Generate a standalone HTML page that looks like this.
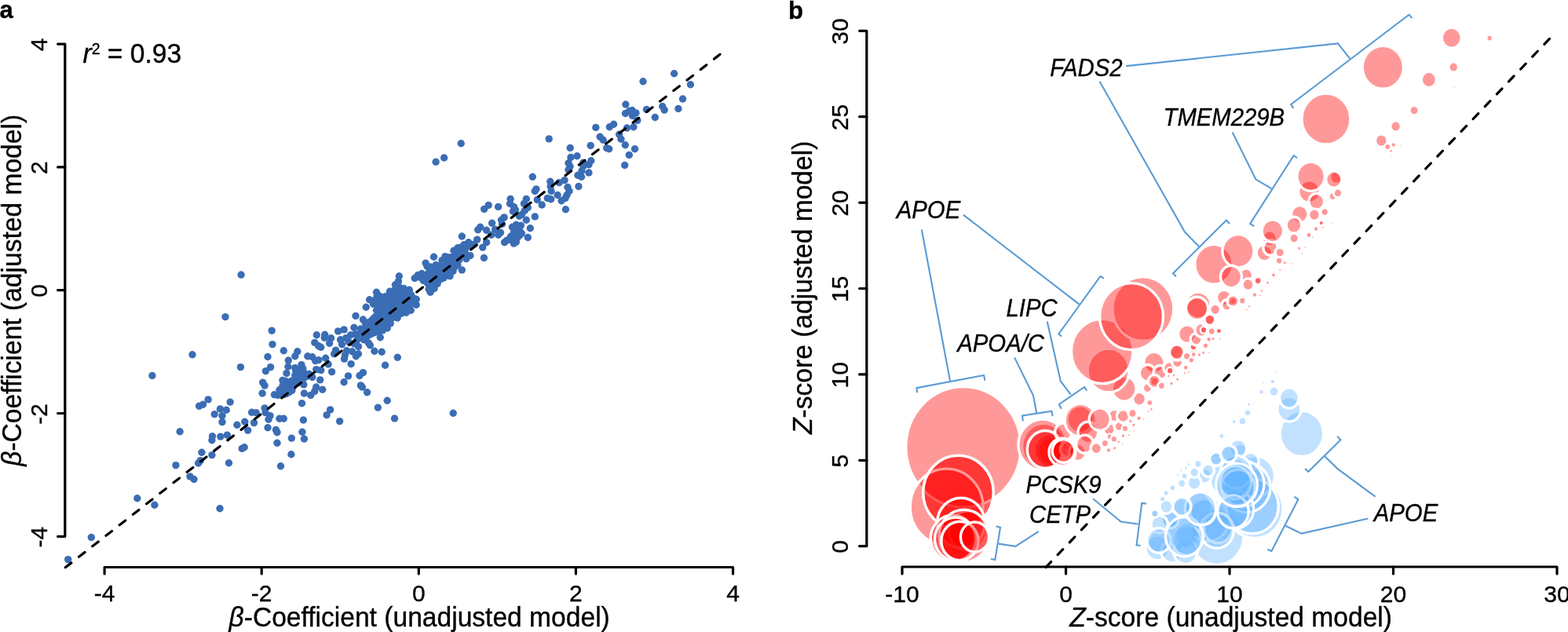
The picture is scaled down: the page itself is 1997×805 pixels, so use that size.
<!DOCTYPE html>
<html lang="en"><head><meta charset="utf-8"><title>Figure</title>
<style>
html,body{margin:0;padding:0;background:#fff;}
body{width:1997px;height:805px;overflow:hidden;}
svg{display:block;}
text{font-family:'Liberation Sans', Arial, Helvetica, sans-serif;fill:#000;stroke:#000;stroke-width:0.35px;}
.ax{stroke:#000;stroke-width:3.2;fill:none;stroke-linecap:round;stroke-linejoin:round;}
.tk{font-size:30px;text-anchor:middle;}
.al{font-size:33.6px;}
.gl{font-size:29.3px;font-style:italic;}
.pl{font-size:31px;font-weight:bold;}
.br{stroke:#5b9bd5;stroke-width:2.1;fill:none;stroke-linejoin:miter;}
.d{fill:#3b6db5;}
.r{fill:rgba(255,0,0,0.4);stroke:#fff;}
.b{fill:rgba(100,180,255,0.4);stroke:#fff;}
.rn{fill:rgba(255,0,0,0.4);}
.bn{fill:rgba(100,180,255,0.4);}
.dash{stroke:#000;stroke-width:3.2;fill:none;stroke-linecap:round;}
</style></head><body>
<svg width="1997" height="805" viewBox="0 0 1997 805">
<rect x="0" y="0" width="1997" height="805" fill="#fff"/>
<g id="panel-a">
<g class="d">
<circle cx="86.7" cy="712.6" r="4.7"/>
<circle cx="116.3" cy="684.5" r="4.7"/>
<circle cx="174.8" cy="634.7" r="4.7"/>
<circle cx="196.9" cy="643.3" r="4.7"/>
<circle cx="223.9" cy="592.6" r="4.7"/>
<circle cx="229.1" cy="549.8" r="4.7"/>
<circle cx="242.0" cy="606.9" r="4.7"/>
<circle cx="247.0" cy="610.5" r="4.7"/>
<circle cx="252.6" cy="590.0" r="4.7"/>
<circle cx="255.3" cy="586.6" r="4.7"/>
<circle cx="256.9" cy="576.3" r="4.7"/>
<circle cx="269.9" cy="579.6" r="4.7"/>
<circle cx="269.9" cy="560.8" r="4.7"/>
<circle cx="270.5" cy="555.8" r="4.7"/>
<circle cx="273.2" cy="527.6" r="4.7"/>
<circle cx="193.9" cy="478.5" r="4.7"/>
<circle cx="245.0" cy="451.7" r="4.7"/>
<circle cx="287.0" cy="403.6" r="4.7"/>
<circle cx="306.4" cy="467.6" r="4.7"/>
<circle cx="253.6" cy="517.3" r="4.7"/>
<circle cx="258.5" cy="515.3" r="4.7"/>
<circle cx="265.1" cy="508.9" r="4.7"/>
<circle cx="280.4" cy="520.9" r="4.7"/>
<circle cx="288.3" cy="522.3" r="4.7"/>
<circle cx="293.1" cy="512.1" r="4.7"/>
<circle cx="283.0" cy="529.6" r="4.7"/>
<circle cx="283.0" cy="537.6" r="4.7"/>
<circle cx="280.8" cy="556.1" r="4.7"/>
<circle cx="289.3" cy="554.1" r="4.7"/>
<circle cx="301.9" cy="541.2" r="4.7"/>
<circle cx="311.8" cy="537.2" r="4.7"/>
<circle cx="315.6" cy="548.1" r="4.7"/>
<circle cx="320.6" cy="525.2" r="4.7"/>
<circle cx="326.1" cy="525.6" r="4.7"/>
<circle cx="323.5" cy="538.6" r="4.7"/>
<circle cx="337.1" cy="519.9" r="4.7"/>
<circle cx="338.1" cy="525.6" r="4.7"/>
<circle cx="344.0" cy="529.6" r="4.7"/>
<circle cx="342.0" cy="534.2" r="4.7"/>
<circle cx="341.0" cy="544.7" r="4.7"/>
<circle cx="351.4" cy="547.5" r="4.7"/>
<circle cx="353.0" cy="550.7" r="4.7"/>
<circle cx="355.9" cy="533.2" r="4.7"/>
<circle cx="361.3" cy="533.2" r="4.7"/>
<circle cx="371.3" cy="558.1" r="4.7"/>
<circle cx="334.1" cy="501.0" r="4.7"/>
<circle cx="334.7" cy="487.1" r="4.7"/>
<circle cx="337.1" cy="491.1" r="4.7"/>
<circle cx="338.4" cy="472.6" r="4.7"/>
<circle cx="344.6" cy="467.6" r="4.7"/>
<circle cx="341.0" cy="454.5" r="4.7"/>
<circle cx="347.0" cy="438.6" r="4.7"/>
<circle cx="346.2" cy="421.1" r="4.7"/>
<circle cx="361.3" cy="446.7" r="4.7"/>
<circle cx="367.3" cy="459.0" r="4.7"/>
<circle cx="366.9" cy="467.0" r="4.7"/>
<circle cx="364.9" cy="475.5" r="4.7"/>
<circle cx="375.8" cy="453.7" r="4.7"/>
<circle cx="378.8" cy="447.7" r="4.7"/>
<circle cx="349.4" cy="502.8" r="4.7"/>
<circle cx="354.0" cy="503.4" r="4.7"/>
<circle cx="355.9" cy="496.8" r="4.7"/>
<circle cx="359.9" cy="484.5" r="4.7"/>
<circle cx="361.9" cy="502.4" r="4.7"/>
<circle cx="365.9" cy="487.5" r="4.7"/>
<circle cx="366.9" cy="493.4" r="4.7"/>
<circle cx="370.9" cy="485.5" r="4.7"/>
<circle cx="371.8" cy="497.4" r="4.7"/>
<circle cx="375.8" cy="468.6" r="4.7"/>
<circle cx="376.8" cy="472.6" r="4.7"/>
<circle cx="374.8" cy="483.5" r="4.7"/>
<circle cx="378.8" cy="479.5" r="4.7"/>
<circle cx="362.9" cy="490.5" r="4.7"/>
<circle cx="368.9" cy="490.5" r="4.7"/>
<circle cx="358.9" cy="499.4" r="4.7"/>
<circle cx="280.0" cy="647.8" r="4.7"/>
<circle cx="291.5" cy="589.7" r="4.7"/>
<circle cx="308.2" cy="571.4" r="4.7"/>
<circle cx="311.2" cy="569.8" r="4.7"/>
<circle cx="353.0" cy="564.3" r="4.7"/>
<circle cx="357.5" cy="593.7" r="4.7"/>
<circle cx="370.9" cy="578.8" r="4.7"/>
<circle cx="506.3" cy="455.3" r="4.7"/>
<circle cx="490.6" cy="465.2" r="4.7"/>
<circle cx="486.2" cy="448.3" r="4.7"/>
<circle cx="476.9" cy="447.3" r="4.7"/>
<circle cx="502.5" cy="533.0" r="4.7"/>
<circle cx="493.2" cy="510.3" r="4.7"/>
<circle cx="481.3" cy="519.1" r="4.7"/>
<circle cx="467.6" cy="499.8" r="4.7"/>
<circle cx="459.4" cy="490.9" r="4.7"/>
<circle cx="461.4" cy="493.0" r="4.7"/>
<circle cx="462.4" cy="474.6" r="4.7"/>
<circle cx="458.0" cy="478.5" r="4.7"/>
<circle cx="443.5" cy="478.9" r="4.7"/>
<circle cx="438.1" cy="486.7" r="4.7"/>
<circle cx="447.1" cy="463.6" r="4.7"/>
<circle cx="432.6" cy="536.6" r="4.7"/>
<circle cx="420.6" cy="521.9" r="4.7"/>
<circle cx="416.1" cy="528.6" r="4.7"/>
<circle cx="386.4" cy="535.0" r="4.7"/>
<circle cx="384.9" cy="550.3" r="4.7"/>
<circle cx="387.4" cy="559.0" r="4.7"/>
<circle cx="384.5" cy="513.7" r="4.7"/>
<circle cx="422.6" cy="473.6" r="4.7"/>
<circle cx="410.7" cy="496.2" r="4.7"/>
<circle cx="402.7" cy="493.0" r="4.7"/>
<circle cx="400.8" cy="498.4" r="4.7"/>
<circle cx="395.8" cy="503.4" r="4.7"/>
<circle cx="387.4" cy="501.0" r="4.7"/>
<circle cx="386.8" cy="489.9" r="4.7"/>
<circle cx="407.7" cy="483.9" r="4.7"/>
<circle cx="408.7" cy="471.6" r="4.7"/>
<circle cx="402.7" cy="470.6" r="4.7"/>
<circle cx="397.8" cy="480.5" r="4.7"/>
<circle cx="418.1" cy="464.0" r="4.7"/>
<circle cx="414.7" cy="456.3" r="4.7"/>
<circle cx="405.7" cy="458.6" r="4.7"/>
<circle cx="401.7" cy="459.6" r="4.7"/>
<circle cx="397.8" cy="454.7" r="4.7"/>
<circle cx="391.8" cy="453.7" r="4.7"/>
<circle cx="403.3" cy="426.8" r="4.7"/>
<circle cx="413.7" cy="426.2" r="4.7"/>
<circle cx="413.3" cy="430.2" r="4.7"/>
<circle cx="400.8" cy="436.4" r="4.7"/>
<circle cx="405.7" cy="440.8" r="4.7"/>
<circle cx="408.7" cy="442.3" r="4.7"/>
<circle cx="419.6" cy="437.2" r="4.7"/>
<circle cx="421.6" cy="430.8" r="4.7"/>
<circle cx="430.6" cy="421.9" r="4.7"/>
<circle cx="438.1" cy="419.9" r="4.7"/>
<circle cx="450.9" cy="417.3" r="4.7"/>
<circle cx="453.0" cy="402.4" r="4.7"/>
<circle cx="462.4" cy="407.0" r="4.7"/>
<circle cx="427.6" cy="446.1" r="4.7"/>
<circle cx="425.6" cy="450.7" r="4.7"/>
<circle cx="439.5" cy="452.1" r="4.7"/>
<circle cx="438.5" cy="457.1" r="4.7"/>
<circle cx="441.5" cy="446.7" r="4.7"/>
<circle cx="448.5" cy="447.7" r="4.7"/>
<circle cx="453.4" cy="453.7" r="4.7"/>
<circle cx="456.4" cy="450.7" r="4.7"/>
<circle cx="456.4" cy="441.4" r="4.7"/>
<circle cx="450.5" cy="437.8" r="4.7"/>
<circle cx="444.5" cy="435.8" r="4.7"/>
<circle cx="435.5" cy="438.8" r="4.7"/>
<circle cx="433.6" cy="432.8" r="4.7"/>
<circle cx="440.5" cy="430.8" r="4.7"/>
<circle cx="446.5" cy="426.8" r="4.7"/>
<circle cx="452.4" cy="425.8" r="4.7"/>
<circle cx="457.4" cy="430.8" r="4.7"/>
<circle cx="463.4" cy="432.8" r="4.7"/>
<circle cx="469.3" cy="436.8" r="4.7"/>
<circle cx="471.3" cy="439.8" r="4.7"/>
<circle cx="468.3" cy="427.8" r="4.7"/>
<circle cx="476.3" cy="423.9" r="4.7"/>
<circle cx="484.3" cy="429.8" r="4.7"/>
<circle cx="479.3" cy="419.9" r="4.7"/>
<circle cx="471.3" cy="418.9" r="4.7"/>
<circle cx="465.4" cy="419.9" r="4.7"/>
<circle cx="459.4" cy="418.9" r="4.7"/>
<circle cx="465.4" cy="411.9" r="4.7"/>
<circle cx="471.3" cy="409.9" r="4.7"/>
<circle cx="477.3" cy="404.0" r="4.7"/>
<circle cx="477.3" cy="411.9" r="4.7"/>
<circle cx="483.3" cy="413.9" r="4.7"/>
<circle cx="489.2" cy="408.0" r="4.7"/>
<circle cx="493.2" cy="417.9" r="4.7"/>
<circle cx="497.2" cy="411.9" r="4.7"/>
<circle cx="495.2" cy="404.0" r="4.7"/>
<circle cx="501.2" cy="402.0" r="4.7"/>
<circle cx="506.1" cy="405.0" r="4.7"/>
<circle cx="487.2" cy="420.9" r="4.7"/>
<circle cx="379.9" cy="471.6" r="4.7"/>
<circle cx="383.9" cy="464.6" r="4.7"/>
<circle cx="385.8" cy="469.6" r="4.7"/>
<circle cx="381.9" cy="476.5" r="4.7"/>
<circle cx="387.8" cy="475.5" r="4.7"/>
<circle cx="390.8" cy="479.5" r="4.7"/>
<circle cx="364.0" cy="485.5" r="4.7"/>
<circle cx="373.9" cy="489.5" r="4.7"/>
<circle cx="379.9" cy="487.5" r="4.7"/>
<circle cx="369.9" cy="495.4" r="4.7"/>
<circle cx="364.0" cy="493.4" r="4.7"/>
<circle cx="365.0" cy="501.4" r="4.7"/>
<circle cx="360.0" cy="491.5" r="4.7"/>
<circle cx="383.9" cy="483.5" r="4.7"/>
<circle cx="393.8" cy="476.5" r="4.7"/>
<circle cx="577.2" cy="526.2" r="4.7"/>
<circle cx="466.2" cy="391.2" r="4.7"/>
<circle cx="470.6" cy="381.7" r="4.7"/>
<circle cx="479.5" cy="372.3" r="4.7"/>
<circle cx="468.6" cy="411.1" r="4.7"/>
<circle cx="479.5" cy="395.2" r="4.7"/>
<circle cx="475.5" cy="387.2" r="4.7"/>
<circle cx="483.5" cy="377.3" r="4.7"/>
<circle cx="487.5" cy="379.3" r="4.7"/>
<circle cx="496.4" cy="371.3" r="4.7"/>
<circle cx="503.4" cy="362.8" r="4.7"/>
<circle cx="508.3" cy="351.8" r="4.7"/>
<circle cx="507.4" cy="358.4" r="4.7"/>
<circle cx="514.3" cy="367.4" r="4.7"/>
<circle cx="521.3" cy="369.3" r="4.7"/>
<circle cx="523.3" cy="375.3" r="4.7"/>
<circle cx="530.2" cy="381.3" r="4.7"/>
<circle cx="530.2" cy="388.2" r="4.7"/>
<circle cx="527.2" cy="383.3" r="4.7"/>
<circle cx="517.3" cy="398.2" r="4.7"/>
<circle cx="511.3" cy="399.2" r="4.7"/>
<circle cx="519.3" cy="389.2" r="4.7"/>
<circle cx="523.3" cy="395.2" r="4.7"/>
<circle cx="489.5" cy="389.2" r="4.7"/>
<circle cx="495.4" cy="383.3" r="4.7"/>
<circle cx="501.4" cy="379.3" r="4.7"/>
<circle cx="507.4" cy="375.3" r="4.7"/>
<circle cx="513.3" cy="379.3" r="4.7"/>
<circle cx="503.4" cy="387.2" r="4.7"/>
<circle cx="495.4" cy="395.2" r="4.7"/>
<circle cx="489.5" cy="399.2" r="4.7"/>
<circle cx="485.5" cy="407.1" r="4.7"/>
<circle cx="491.5" cy="411.1" r="4.7"/>
<circle cx="479.5" cy="415.1" r="4.7"/>
<circle cx="499.4" cy="399.2" r="4.7"/>
<circle cx="507.4" cy="391.2" r="4.7"/>
<circle cx="513.3" cy="387.2" r="4.7"/>
<circle cx="519.3" cy="381.3" r="4.7"/>
<circle cx="489.5" cy="383.3" r="4.7"/>
<circle cx="483.5" cy="387.2" r="4.7"/>
<circle cx="528.2" cy="354.4" r="4.7"/>
<circle cx="532.2" cy="350.5" r="4.7"/>
<circle cx="537.2" cy="348.5" r="4.7"/>
<circle cx="542.1" cy="335.1" r="4.7"/>
<circle cx="544.1" cy="339.5" r="4.7"/>
<circle cx="552.5" cy="327.2" r="4.7"/>
<circle cx="555.1" cy="337.5" r="4.7"/>
<circle cx="549.1" cy="345.5" r="4.7"/>
<circle cx="543.1" cy="351.5" r="4.7"/>
<circle cx="539.2" cy="357.4" r="4.7"/>
<circle cx="545.1" cy="361.4" r="4.7"/>
<circle cx="548.1" cy="372.3" r="4.7"/>
<circle cx="553.1" cy="367.4" r="4.7"/>
<circle cx="557.1" cy="361.4" r="4.7"/>
<circle cx="561.0" cy="355.4" r="4.7"/>
<circle cx="567.0" cy="351.5" r="4.7"/>
<circle cx="573.0" cy="351.8" r="4.7"/>
<circle cx="576.9" cy="345.5" r="4.7"/>
<circle cx="588.3" cy="343.9" r="4.7"/>
<circle cx="582.9" cy="337.5" r="4.7"/>
<circle cx="578.9" cy="331.6" r="4.7"/>
<circle cx="573.0" cy="327.6" r="4.7"/>
<circle cx="567.0" cy="326.6" r="4.7"/>
<circle cx="577.9" cy="319.2" r="4.7"/>
<circle cx="582.9" cy="315.7" r="4.7"/>
<circle cx="588.3" cy="301.0" r="4.7"/>
<circle cx="590.9" cy="311.7" r="4.7"/>
<circle cx="596.8" cy="308.7" r="4.7"/>
<circle cx="593.8" cy="329.6" r="4.7"/>
<circle cx="598.8" cy="325.6" r="4.7"/>
<circle cx="586.9" cy="321.6" r="4.7"/>
<circle cx="590.9" cy="317.7" r="4.7"/>
<circle cx="569.0" cy="335.5" r="4.7"/>
<circle cx="563.0" cy="339.5" r="4.7"/>
<circle cx="559.0" cy="345.5" r="4.7"/>
<circle cx="553.1" cy="351.5" r="4.7"/>
<circle cx="547.1" cy="355.4" r="4.7"/>
<circle cx="563.0" cy="331.6" r="4.7"/>
<circle cx="575.0" cy="339.5" r="4.7"/>
<circle cx="569.0" cy="343.5" r="4.7"/>
<circle cx="580.9" cy="327.6" r="4.7"/>
<circle cx="551.1" cy="359.4" r="4.7"/>
<circle cx="546.1" cy="368.3" r="4.7"/>
<circle cx="565.6" cy="201.0" r="4.7"/>
<circle cx="587.2" cy="182.7" r="4.7"/>
<circle cx="699.2" cy="176.9" r="4.7"/>
<circle cx="678.3" cy="225.2" r="4.7"/>
<circle cx="758.8" cy="162.4" r="4.7"/>
<circle cx="726.2" cy="188.4" r="4.7"/>
<circle cx="752.2" cy="185.4" r="4.7"/>
<circle cx="727.0" cy="200.4" r="4.7"/>
<circle cx="735.0" cy="198.8" r="4.7"/>
<circle cx="724.0" cy="207.7" r="4.7"/>
<circle cx="726.0" cy="212.1" r="4.7"/>
<circle cx="724.0" cy="216.3" r="4.7"/>
<circle cx="752.8" cy="204.7" r="4.7"/>
<circle cx="749.9" cy="209.7" r="4.7"/>
<circle cx="742.9" cy="211.7" r="4.7"/>
<circle cx="740.9" cy="217.7" r="4.7"/>
<circle cx="749.9" cy="220.0" r="4.7"/>
<circle cx="735.9" cy="223.2" r="4.7"/>
<circle cx="740.5" cy="225.2" r="4.7"/>
<circle cx="736.9" cy="237.5" r="4.7"/>
<circle cx="719.0" cy="229.6" r="4.7"/>
<circle cx="712.1" cy="232.6" r="4.7"/>
<circle cx="700.8" cy="231.2" r="4.7"/>
<circle cx="701.2" cy="237.5" r="4.7"/>
<circle cx="702.1" cy="243.5" r="4.7"/>
<circle cx="697.2" cy="252.4" r="4.7"/>
<circle cx="701.7" cy="253.8" r="4.7"/>
<circle cx="690.2" cy="261.0" r="4.7"/>
<circle cx="684.3" cy="254.4" r="4.7"/>
<circle cx="681.3" cy="243.5" r="4.7"/>
<circle cx="682.9" cy="240.9" r="4.7"/>
<circle cx="670.3" cy="253.4" r="4.7"/>
<circle cx="667.4" cy="259.4" r="4.7"/>
<circle cx="672.3" cy="264.4" r="4.7"/>
<circle cx="668.3" cy="268.3" r="4.7"/>
<circle cx="664.4" cy="273.3" r="4.7"/>
<circle cx="661.4" cy="275.3" r="4.7"/>
<circle cx="670.3" cy="280.3" r="4.7"/>
<circle cx="681.3" cy="275.9" r="4.7"/>
<circle cx="650.1" cy="253.4" r="4.7"/>
<circle cx="649.5" cy="259.4" r="4.7"/>
<circle cx="654.4" cy="263.4" r="4.7"/>
<circle cx="653.4" cy="269.3" r="4.7"/>
<circle cx="656.4" cy="267.4" r="4.7"/>
<circle cx="634.6" cy="263.4" r="4.7"/>
<circle cx="622.2" cy="261.4" r="4.7"/>
<circle cx="616.7" cy="266.4" r="4.7"/>
<circle cx="642.1" cy="276.9" r="4.7"/>
<circle cx="638.5" cy="280.3" r="4.7"/>
<circle cx="639.5" cy="285.2" r="4.7"/>
<circle cx="626.6" cy="284.3" r="4.7"/>
<circle cx="611.7" cy="289.2" r="4.7"/>
<circle cx="608.7" cy="292.8" r="4.7"/>
<circle cx="619.6" cy="293.2" r="4.7"/>
<circle cx="625.6" cy="299.2" r="4.7"/>
<circle cx="634.6" cy="299.2" r="4.7"/>
<circle cx="637.5" cy="296.2" r="4.7"/>
<circle cx="630.6" cy="292.2" r="4.7"/>
<circle cx="607.7" cy="305.1" r="4.7"/>
<circle cx="619.6" cy="308.7" r="4.7"/>
<circle cx="614.7" cy="315.1" r="4.7"/>
<circle cx="586.8" cy="315.1" r="4.7"/>
<circle cx="603.7" cy="311.1" r="4.7"/>
<circle cx="723.0" cy="238.5" r="4.7"/>
<circle cx="725.0" cy="243.5" r="4.7"/>
<circle cx="722.0" cy="248.5" r="4.7"/>
<circle cx="720.0" cy="252.4" r="4.7"/>
<circle cx="715.1" cy="255.8" r="4.7"/>
<circle cx="710.1" cy="248.5" r="4.7"/>
<circle cx="720.4" cy="266.8" r="4.7"/>
<circle cx="675.3" cy="290.8" r="4.7"/>
<circle cx="672.3" cy="302.5" r="4.7"/>
<circle cx="663.4" cy="287.2" r="4.7"/>
<circle cx="657.4" cy="286.2" r="4.7"/>
<circle cx="652.4" cy="289.2" r="4.7"/>
<circle cx="655.4" cy="292.2" r="4.7"/>
<circle cx="661.4" cy="293.2" r="4.7"/>
<circle cx="658.4" cy="297.2" r="4.7"/>
<circle cx="664.4" cy="297.2" r="4.7"/>
<circle cx="653.4" cy="300.2" r="4.7"/>
<circle cx="659.4" cy="302.1" r="4.7"/>
<circle cx="645.5" cy="306.1" r="4.7"/>
<circle cx="642.5" cy="308.7" r="4.7"/>
<circle cx="652.4" cy="306.1" r="4.7"/>
<circle cx="657.4" cy="308.1" r="4.7"/>
<circle cx="654.4" cy="310.1" r="4.7"/>
<circle cx="650.5" cy="301.2" r="4.7"/>
<circle cx="858.6" cy="93.8" r="4.7"/>
<circle cx="819.0" cy="103.7" r="4.7"/>
<circle cx="879.4" cy="107.7" r="4.7"/>
<circle cx="869.5" cy="126.0" r="4.7"/>
<circle cx="863.9" cy="138.5" r="4.7"/>
<circle cx="843.7" cy="135.5" r="4.7"/>
<circle cx="846.2" cy="140.1" r="4.7"/>
<circle cx="834.3" cy="149.5" r="4.7"/>
<circle cx="823.4" cy="139.5" r="4.7"/>
<circle cx="796.9" cy="133.0" r="4.7"/>
<circle cx="796.5" cy="144.5" r="4.7"/>
<circle cx="801.5" cy="141.5" r="4.7"/>
<circle cx="805.1" cy="140.5" r="4.7"/>
<circle cx="809.9" cy="143.9" r="4.7"/>
<circle cx="805.5" cy="147.5" r="4.7"/>
<circle cx="811.8" cy="153.4" r="4.7"/>
<circle cx="806.9" cy="161.8" r="4.7"/>
<circle cx="798.5" cy="163.0" r="4.7"/>
<circle cx="781.6" cy="158.2" r="4.7"/>
<circle cx="776.3" cy="161.8" r="4.7"/>
<circle cx="764.1" cy="174.3" r="4.7"/>
<circle cx="768.1" cy="178.3" r="4.7"/>
<circle cx="788.6" cy="171.3" r="4.7"/>
<circle cx="791.0" cy="177.3" r="4.7"/>
<circle cx="796.3" cy="184.7" r="4.7"/>
<circle cx="808.5" cy="189.8" r="4.7"/>
<circle cx="801.3" cy="197.4" r="4.7"/>
<circle cx="795.7" cy="210.5" r="4.7"/>
<circle cx="772.7" cy="188.6" r="4.7"/>
<circle cx="775.7" cy="189.8" r="4.7"/>
<circle cx="742.9" cy="207.1" r="4.7"/>
<circle cx="307.1" cy="350.0" r="4.7"/>
<circle cx="555.1" cy="206.3" r="4.7"/>
<circle cx="616.4" cy="328.5" r="4.7"/>
<circle cx="360.0" cy="495.1" r="4.7"/>
<circle cx="361.4" cy="487.5" r="4.7"/>
<circle cx="364.4" cy="497.9" r="4.7"/>
<circle cx="372.9" cy="493.4" r="4.7"/>
<circle cx="368.4" cy="499.4" r="4.7"/>
<circle cx="375.8" cy="478.0" r="4.7"/>
<circle cx="377.4" cy="485.5" r="4.7"/>
<circle cx="384.8" cy="479.5" r="4.7"/>
<circle cx="381.3" cy="481.5" r="4.7"/>
<circle cx="453.9" cy="434.3" r="4.7"/>
<circle cx="462.9" cy="429.3" r="4.7"/>
<circle cx="458.4" cy="424.9" r="4.7"/>
<circle cx="472.3" cy="425.8" r="4.7"/>
<circle cx="469.8" cy="423.4" r="4.7"/>
<circle cx="463.9" cy="423.4" r="4.7"/>
<circle cx="473.8" cy="421.4" r="4.7"/>
<circle cx="481.8" cy="422.4" r="4.7"/>
<circle cx="475.3" cy="414.9" r="4.7"/>
<circle cx="471.3" cy="414.4" r="4.7"/>
<circle cx="467.0" cy="415.5" r="4.7"/>
<circle cx="474.3" cy="407.0" r="4.7"/>
<circle cx="480.3" cy="408.9" r="4.7"/>
<circle cx="481.4" cy="405.5" r="4.7"/>
<circle cx="486.2" cy="410.9" r="4.7"/>
<circle cx="485.2" cy="417.4" r="4.7"/>
<circle cx="492.2" cy="406.0" r="4.7"/>
<circle cx="489.3" cy="403.6" r="4.7"/>
<circle cx="496.2" cy="408.0" r="4.7"/>
<circle cx="495.3" cy="399.6" r="4.7"/>
<circle cx="492.3" cy="401.6" r="4.7"/>
<circle cx="504.3" cy="396.6" r="4.7"/>
<circle cx="489.3" cy="416.0" r="4.7"/>
<circle cx="383.9" cy="473.6" r="4.7"/>
<circle cx="387.3" cy="481.5" r="4.7"/>
<circle cx="516.3" cy="384.3" r="4.7"/>
<circle cx="495.4" cy="389.2" r="4.7"/>
<circle cx="492.4" cy="397.2" r="4.7"/>
<circle cx="501.4" cy="393.2" r="4.7"/>
<circle cx="510.3" cy="389.2" r="4.7"/>
<circle cx="548.1" cy="351.5" r="4.7"/>
<circle cx="583.9" cy="324.6" r="4.7"/>
<circle cx="552.1" cy="355.4" r="4.7"/>
<circle cx="659.4" cy="289.7" r="4.7"/>
<circle cx="654.4" cy="296.2" r="4.7"/>
<circle cx="661.9" cy="299.7" r="4.7"/>
<circle cx="508.0" cy="365.2" r="4.7"/>
<circle cx="502.6" cy="369.2" r="4.7"/>
<circle cx="507.0" cy="368.1" r="4.7"/>
<circle cx="511.8" cy="368.3" r="4.7"/>
<circle cx="499.0" cy="372.7" r="4.7"/>
<circle cx="503.5" cy="372.5" r="4.7"/>
<circle cx="508.0" cy="374.4" r="4.7"/>
<circle cx="513.1" cy="373.8" r="4.7"/>
<circle cx="516.4" cy="373.2" r="4.7"/>
<circle cx="520.8" cy="374.0" r="4.7"/>
<circle cx="480.0" cy="377.5" r="4.7"/>
<circle cx="484.9" cy="378.3" r="4.7"/>
<circle cx="490.8" cy="377.8" r="4.7"/>
<circle cx="495.3" cy="378.9" r="4.7"/>
<circle cx="499.8" cy="377.7" r="4.7"/>
<circle cx="502.9" cy="377.4" r="4.7"/>
<circle cx="507.3" cy="377.3" r="4.7"/>
<circle cx="512.7" cy="378.7" r="4.7"/>
<circle cx="517.6" cy="377.9" r="4.7"/>
<circle cx="521.7" cy="378.5" r="4.7"/>
<circle cx="525.1" cy="378.3" r="4.7"/>
<circle cx="476.2" cy="383.3" r="4.7"/>
<circle cx="481.4" cy="381.8" r="4.7"/>
<circle cx="484.7" cy="381.7" r="4.7"/>
<circle cx="490.7" cy="383.0" r="4.7"/>
<circle cx="493.7" cy="383.1" r="4.7"/>
<circle cx="499.9" cy="382.8" r="4.7"/>
<circle cx="503.1" cy="382.5" r="4.7"/>
<circle cx="507.2" cy="381.5" r="4.7"/>
<circle cx="513.4" cy="382.7" r="4.7"/>
<circle cx="517.0" cy="383.3" r="4.7"/>
<circle cx="521.3" cy="383.2" r="4.7"/>
<circle cx="526.6" cy="381.9" r="4.7"/>
<circle cx="480.8" cy="387.8" r="4.7"/>
<circle cx="485.4" cy="387.0" r="4.7"/>
<circle cx="490.0" cy="386.0" r="4.7"/>
<circle cx="494.3" cy="386.3" r="4.7"/>
<circle cx="497.9" cy="387.5" r="4.7"/>
<circle cx="502.8" cy="386.9" r="4.7"/>
<circle cx="508.4" cy="387.0" r="4.7"/>
<circle cx="512.1" cy="387.0" r="4.7"/>
<circle cx="517.0" cy="387.5" r="4.7"/>
<circle cx="520.6" cy="387.1" r="4.7"/>
<circle cx="525.4" cy="386.5" r="4.7"/>
<circle cx="485.8" cy="392.2" r="4.7"/>
<circle cx="490.8" cy="391.0" r="4.7"/>
<circle cx="494.5" cy="392.3" r="4.7"/>
<circle cx="499.6" cy="390.7" r="4.7"/>
<circle cx="502.7" cy="391.3" r="4.7"/>
<circle cx="507.1" cy="390.9" r="4.7"/>
<circle cx="511.6" cy="391.8" r="4.7"/>
<circle cx="517.5" cy="392.2" r="4.7"/>
<circle cx="520.7" cy="391.9" r="4.7"/>
<circle cx="485.9" cy="395.0" r="4.7"/>
<circle cx="490.0" cy="395.8" r="4.7"/>
<circle cx="493.5" cy="395.6" r="4.7"/>
<circle cx="499.2" cy="396.0" r="4.7"/>
<circle cx="502.5" cy="396.9" r="4.7"/>
<circle cx="508.5" cy="396.9" r="4.7"/>
<circle cx="511.6" cy="395.5" r="4.7"/>
<circle cx="481.2" cy="401.0" r="4.7"/>
<circle cx="484.6" cy="401.1" r="4.7"/>
<circle cx="489.1" cy="401.2" r="4.7"/>
<circle cx="494.3" cy="400.1" r="4.7"/>
<circle cx="499.0" cy="401.3" r="4.7"/>
<circle cx="503.0" cy="399.7" r="4.7"/>
<circle cx="508.0" cy="399.9" r="4.7"/>
<circle cx="481.6" cy="404.8" r="4.7"/>
<circle cx="485.4" cy="405.6" r="4.7"/>
<circle cx="489.7" cy="405.0" r="4.7"/>
<circle cx="494.8" cy="405.9" r="4.7"/>
<circle cx="498.6" cy="405.6" r="4.7"/>
<circle cx="477.4" cy="409.5" r="4.7"/>
<circle cx="480.4" cy="410.4" r="4.7"/>
<circle cx="485.0" cy="409.2" r="4.7"/>
<circle cx="488.9" cy="409.2" r="4.7"/>
<circle cx="494.4" cy="409.4" r="4.7"/>
<circle cx="471.0" cy="414.6" r="4.7"/>
<circle cx="477.2" cy="414.2" r="4.7"/>
<circle cx="481.4" cy="414.6" r="4.7"/>
<circle cx="484.7" cy="414.0" r="4.7"/>
<circle cx="489.9" cy="414.6" r="4.7"/>
<circle cx="467.7" cy="417.6" r="4.7"/>
<circle cx="472.4" cy="417.9" r="4.7"/>
<circle cx="475.6" cy="418.0" r="4.7"/>
<circle cx="481.4" cy="417.8" r="4.7"/>
<circle cx="485.9" cy="419.4" r="4.7"/>
<circle cx="468.2" cy="422.3" r="4.7"/>
<circle cx="472.9" cy="423.8" r="4.7"/>
<circle cx="475.5" cy="422.9" r="4.7"/>
<circle cx="593.8" cy="313.7" r="4.7"/>
<circle cx="597.0" cy="313.2" r="4.7"/>
<circle cx="588.9" cy="319.1" r="4.7"/>
<circle cx="592.3" cy="318.0" r="4.7"/>
<circle cx="580.2" cy="322.6" r="4.7"/>
<circle cx="583.1" cy="322.7" r="4.7"/>
<circle cx="588.3" cy="323.6" r="4.7"/>
<circle cx="592.4" cy="322.5" r="4.7"/>
<circle cx="575.9" cy="328.1" r="4.7"/>
<circle cx="579.3" cy="326.7" r="4.7"/>
<circle cx="583.9" cy="327.2" r="4.7"/>
<circle cx="570.8" cy="332.1" r="4.7"/>
<circle cx="575.5" cy="332.4" r="4.7"/>
<circle cx="579.9" cy="331.0" r="4.7"/>
<circle cx="584.7" cy="331.3" r="4.7"/>
<circle cx="562.5" cy="336.4" r="4.7"/>
<circle cx="566.9" cy="336.0" r="4.7"/>
<circle cx="571.3" cy="336.1" r="4.7"/>
<circle cx="574.5" cy="336.8" r="4.7"/>
<circle cx="580.4" cy="335.4" r="4.7"/>
<circle cx="548.3" cy="339.9" r="4.7"/>
<circle cx="551.9" cy="341.1" r="4.7"/>
<circle cx="556.8" cy="340.3" r="4.7"/>
<circle cx="561.1" cy="341.6" r="4.7"/>
<circle cx="565.6" cy="340.9" r="4.7"/>
<circle cx="570.2" cy="340.6" r="4.7"/>
<circle cx="575.8" cy="341.7" r="4.7"/>
<circle cx="579.3" cy="340.1" r="4.7"/>
<circle cx="547.2" cy="345.2" r="4.7"/>
<circle cx="553.1" cy="346.2" r="4.7"/>
<circle cx="556.4" cy="344.5" r="4.7"/>
<circle cx="562.4" cy="346.2" r="4.7"/>
<circle cx="566.0" cy="344.3" r="4.7"/>
<circle cx="571.4" cy="345.0" r="4.7"/>
<circle cx="575.8" cy="345.5" r="4.7"/>
<circle cx="543.7" cy="349.8" r="4.7"/>
<circle cx="548.3" cy="349.3" r="4.7"/>
<circle cx="552.4" cy="349.9" r="4.7"/>
<circle cx="556.9" cy="350.1" r="4.7"/>
<circle cx="561.4" cy="349.6" r="4.7"/>
<circle cx="565.1" cy="350.0" r="4.7"/>
<circle cx="570.5" cy="349.2" r="4.7"/>
<circle cx="535.4" cy="353.5" r="4.7"/>
<circle cx="539.7" cy="355.2" r="4.7"/>
<circle cx="544.0" cy="354.9" r="4.7"/>
<circle cx="547.4" cy="355.2" r="4.7"/>
<circle cx="552.5" cy="355.1" r="4.7"/>
<circle cx="557.9" cy="353.6" r="4.7"/>
<circle cx="562.1" cy="355.1" r="4.7"/>
<circle cx="565.2" cy="353.9" r="4.7"/>
<circle cx="543.7" cy="359.5" r="4.7"/>
<circle cx="547.2" cy="359.7" r="4.7"/>
<circle cx="552.8" cy="358.5" r="4.7"/>
<circle cx="557.6" cy="358.3" r="4.7"/>
<circle cx="548.2" cy="362.6" r="4.7"/>
<circle cx="552.8" cy="363.2" r="4.7"/>
<circle cx="548.7" cy="367.1" r="4.7"/>
<circle cx="552.1" cy="367.3" r="4.7"/>
</g>
<line class="dash" x1="83.3" y1="722.8" x2="917.9" y2="68.5" stroke-dasharray="9.6 12.27"/>
<path class="ax" d="M73.6 56.1 H82.8 V683.3 H73.6"/>
<path class="ax" d="M73.6 212.9 H82.8"/>
<path class="ax" d="M73.6 369.7 H82.8"/>
<path class="ax" d="M73.6 526.5 H82.8"/>
<path class="ax" d="M133.1 731.0 V722.5 H933.5 V731.0"/>
<path class="ax" d="M333.2 722.5 V731"/>
<path class="ax" d="M533.3 722.5 V731"/>
<path class="ax" d="M733.4 722.5 V731"/>
<text class="tk" transform="translate(60.4 56.9) rotate(-90) scale(1 1.000)">4</text>
<text class="tk" transform="translate(60.4 213.7) rotate(-90) scale(1 1.000)">2</text>
<text class="tk" transform="translate(60.4 370.5) rotate(-90) scale(1 1.000)">0</text>
<text class="tk" transform="translate(60.4 527.3) rotate(-90) scale(1 1.000)">-2</text>
<text class="tk" transform="translate(60.4 684.1) rotate(-90) scale(1 1.000)">-4</text>
<text class="tk" transform="translate(133.1 765.5) scale(1 1.000)">-4</text>
<text class="tk" transform="translate(333.2 765.5) scale(1 1.000)">-2</text>
<text class="tk" transform="translate(533.3 765.5) scale(1 1.000)">0</text>
<text class="tk" transform="translate(733.4 765.5) scale(1 1.000)">2</text>
<text class="tk" transform="translate(933.5 765.5) scale(1 1.000)">4</text>
<text class="al" transform="translate(27.3 593.8) rotate(-90) scale(1 1.020)"><tspan font-style="italic">β</tspan>-Coefficient (adjusted model)</text>
<text class="al" transform="translate(291.5 797.9) scale(1 1.020)"><tspan font-style="italic">β</tspan>-Coefficient (unadjusted model)</text>
<text class="pl" transform="translate(-0.5 22.7) scale(1 1.040)">a</text>
<text class="al" transform="translate(105.5 80.3) scale(1 1.020)"><tspan font-style="italic">r</tspan><tspan font-size="19.5" dy="-11">2</tspan><tspan dy="11"> = 0.93</tspan></text>
</g>
<g id="panel-b">
<ellipse class="r" cx="1220.5" cy="627.2" rx="44.8" ry="47.0" stroke-width="3.4"/>
<ellipse class="r" cx="1227.0" cy="569.3" rx="73.2" ry="76.8" stroke-width="3.4"/>
<ellipse class="r" cx="1205.6" cy="645.8" rx="46.4" ry="48.7" stroke-width="3.4"/>
<ellipse class="r" cx="1220.5" cy="627.2" rx="44.8" ry="47.0" stroke-width="3.4"/>
<ellipse class="rn" cx="1225.1" cy="686.5" rx="17.4" ry="18.3"/>
<ellipse class="rn" cx="1219.6" cy="692.0" rx="18.8" ry="19.7"/>
<ellipse class="r" cx="1232.6" cy="676.1" rx="24.2" ry="25.4" stroke-width="3.4"/>
<ellipse class="r" cx="1223.9" cy="666.0" rx="30.3" ry="31.8" stroke-width="3.4"/>
<ellipse class="r" cx="1213.5" cy="685.8" rx="28.3" ry="29.7" stroke-width="3.4"/>
<ellipse class="r" cx="1227.8" cy="682.6" rx="31.8" ry="33.4" stroke-width="3.4"/>
<ellipse class="r" cx="1216.9" cy="686.6" rx="26.3" ry="27.6" stroke-width="3.4"/>
<ellipse class="r" cx="1222.4" cy="689.0" rx="23.6" ry="24.8" stroke-width="3.4"/>
<ellipse class="r" cx="1241.5" cy="684.0" rx="18.1" ry="19.0" stroke-width="3.4"/>
<ellipse class="r" cx="1338.9" cy="574.3" rx="17.3" ry="18.1" stroke-width="3.4"/>
<ellipse class="r" cx="1337.7" cy="573.7" rx="20.3" ry="21.3" stroke-width="3.4"/>
<ellipse class="r" cx="1329.4" cy="568.3" rx="27.7" ry="29.1" stroke-width="3.4"/>
<ellipse class="r" cx="1327.9" cy="566.5" rx="31.0" ry="32.5" stroke-width="3.4"/>
<ellipse class="r" cx="1331.2" cy="572.5" rx="22.9" ry="24.0" stroke-width="3.4"/>
<ellipse class="r" cx="1354.4" cy="550.4" rx="10.8" ry="11.3" stroke-width="3.4"/>
<ellipse class="r" cx="1364.3" cy="571.9" rx="6.2" ry="6.5" stroke-width="3.4"/>
<ellipse class="r" cx="1359.8" cy="572.4" rx="9.5" ry="10.0" stroke-width="3.4"/>
<ellipse class="r" cx="1372.3" cy="576.1" rx="10.8" ry="11.3" stroke-width="3.4"/>
<ellipse class="r" cx="1352.9" cy="576.0" rx="16.9" ry="17.7" stroke-width="3.4"/>
<ellipse class="r" cx="1354.4" cy="574.4" rx="14.2" ry="14.9" stroke-width="3.4"/>
<ellipse class="r" cx="1375.6" cy="534.1" rx="16.5" ry="17.3" stroke-width="3.4"/>
<ellipse class="r" cx="1376.2" cy="535.3" rx="20.1" ry="21.1" stroke-width="3.4"/>
<ellipse class="r" cx="1412.6" cy="546.7" rx="7.7" ry="8.1" stroke-width="3.4"/>
<ellipse class="r" cx="1407.3" cy="564.6" rx="4.7" ry="4.9" stroke-width="2.6"/>
<ellipse class="r" cx="1419.2" cy="529.4" rx="7.7" ry="8.1" stroke-width="3.4"/>
<ellipse class="r" cx="1425.2" cy="543.1" rx="6.1" ry="6.4" stroke-width="3.4"/>
<ellipse class="r" cx="1413.2" cy="556.2" rx="3.5" ry="3.7" stroke-width="1.9"/>
<ellipse class="r" cx="1385.8" cy="550.8" rx="12.9" ry="13.5" stroke-width="3.4"/>
<ellipse class="r" cx="1400.7" cy="534.1" rx="13.5" ry="14.2" stroke-width="3.4"/>
<ellipse class="r" cx="1381.6" cy="565.7" rx="11.1" ry="11.6" stroke-width="3.4"/>
<ellipse class="r" cx="1396.2" cy="571.1" rx="7.2" ry="7.6" stroke-width="3.4"/>
<ellipse class="r" cx="1412.0" cy="573.5" rx="3.0" ry="3.1" stroke-width="1.7"/>
<ellipse class="r" cx="1419.5" cy="570.8" rx="1.9" ry="2.0" stroke-width="1.0"/>
<ellipse class="r" cx="1418.8" cy="559.2" rx="4.2" ry="4.4" stroke-width="2.3"/>
<ellipse class="r" cx="1432.9" cy="545.8" rx="4.2" ry="4.4" stroke-width="2.3"/>
<ellipse class="r" cx="1430.5" cy="555.0" rx="2.3" ry="2.4" stroke-width="1.3"/>
<ellipse class="r" cx="1430.5" cy="530.0" rx="8.1" ry="8.5" stroke-width="3.4"/>
<ellipse class="r" cx="1442.4" cy="526.4" rx="5.5" ry="5.8" stroke-width="3.0"/>
<ellipse class="r" cx="1450.6" cy="532.7" rx="3.0" ry="3.1" stroke-width="1.7"/>
<ellipse class="r" cx="1443.9" cy="541.3" rx="2.3" ry="2.4" stroke-width="1.3"/>
<ellipse class="r" cx="1439.7" cy="536.5" rx="2.3" ry="2.4" stroke-width="1.3"/>
<ellipse class="r" cx="1437.9" cy="554.4" rx="1.2" ry="1.3" stroke-width="0.7"/>
<ellipse class="r" cx="1456.5" cy="533.5" rx="0.9" ry="0.9" stroke-width="0.5"/>
<ellipse class="r" cx="1444.8" cy="548.5" rx="0.9" ry="0.9" stroke-width="0.5"/>
<ellipse class="r" cx="1429.3" cy="564.9" rx="0.9" ry="0.9" stroke-width="0.5"/>
<ellipse class="r" cx="1424.6" cy="562.8" rx="1.6" ry="1.7" stroke-width="0.9"/>
<ellipse class="r" cx="1451.0" cy="508.1" rx="8.4" ry="8.8" stroke-width="3.4"/>
<ellipse class="r" cx="1464.2" cy="512.9" rx="3.8" ry="4.0" stroke-width="2.1"/>
<ellipse class="r" cx="1466.3" cy="521.3" rx="1.7" ry="1.8" stroke-width="0.9"/>
<ellipse class="r" cx="1462.1" cy="524.0" rx="1.1" ry="1.2" stroke-width="0.6"/>
<ellipse class="r" cx="1431.7" cy="495.2" rx="15.3" ry="16.0" stroke-width="3.4"/>
<ellipse class="r" cx="1411.7" cy="471.9" rx="26.5" ry="27.8" stroke-width="3.4"/>
<ellipse class="r" cx="1403.7" cy="447.4" rx="39.3" ry="41.2" stroke-width="3.4"/>
<ellipse class="r" cx="1455.8" cy="393.4" rx="39.0" ry="40.9" stroke-width="3.4"/>
<ellipse class="r" cx="1441.0" cy="403.1" rx="40.5" ry="42.5" stroke-width="3.4"/>
<ellipse class="r" cx="1469.8" cy="462.0" rx="13.1" ry="13.7" stroke-width="3.4"/>
<ellipse class="r" cx="1461.5" cy="475.2" rx="10.2" ry="10.7" stroke-width="3.4"/>
<ellipse class="r" cx="1461.5" cy="494.2" rx="6.1" ry="6.4" stroke-width="3.4"/>
<ellipse class="r" cx="1477.6" cy="474.6" rx="8.7" ry="9.1" stroke-width="3.4"/>
<ellipse class="r" cx="1470.4" cy="485.9" rx="8.1" ry="8.5" stroke-width="3.4"/>
<ellipse class="rn" cx="1470.4" cy="485.9" rx="4.2" ry="4.4"/>
<ellipse class="r" cx="1479.4" cy="491.3" rx="4.7" ry="4.9" stroke-width="2.6"/>
<ellipse class="r" cx="1489.5" cy="468.6" rx="7.7" ry="8.1" stroke-width="3.4"/>
<ellipse class="r" cx="1490.1" cy="472.2" rx="4.2" ry="4.4" stroke-width="2.3"/>
<ellipse class="r" cx="1499.6" cy="461.4" rx="6.9" ry="7.2" stroke-width="3.4"/>
<ellipse class="r" cx="1498.5" cy="448.3" rx="9.0" ry="9.4" stroke-width="3.4"/>
<ellipse class="r" cx="1499.0" cy="448.9" rx="9.6" ry="10.1" stroke-width="3.4"/>
<ellipse class="r" cx="1511.6" cy="453.7" rx="5.0" ry="5.2" stroke-width="2.8"/>
<ellipse class="r" cx="1517.3" cy="458.7" rx="3.5" ry="3.7" stroke-width="1.9"/>
<ellipse class="r" cx="1510.1" cy="468.2" rx="3.1" ry="3.3" stroke-width="1.7"/>
<ellipse class="r" cx="1508.9" cy="475.2" rx="1.4" ry="1.5" stroke-width="0.8"/>
<ellipse class="r" cx="1514.0" cy="474.0" rx="1.2" ry="1.3" stroke-width="0.7"/>
<ellipse class="r" cx="1499.6" cy="483.1" rx="2.0" ry="2.1" stroke-width="1.1"/>
<ellipse class="r" cx="1491.9" cy="488.5" rx="2.3" ry="2.4" stroke-width="1.3"/>
<ellipse class="r" cx="1488.3" cy="479.0" rx="1.6" ry="1.7" stroke-width="0.9"/>
<ellipse class="r" cx="1494.9" cy="478.1" rx="1.6" ry="1.7" stroke-width="0.9"/>
<ellipse class="r" cx="1511.9" cy="425.6" rx="11.3" ry="11.9" stroke-width="3.4"/>
<ellipse class="r" cx="1519.9" cy="442.9" rx="6.6" ry="6.9" stroke-width="3.4"/>
<ellipse class="r" cx="1519.9" cy="441.8" rx="4.2" ry="4.4" stroke-width="2.3"/>
<ellipse class="r" cx="1523.5" cy="432.2" rx="7.4" ry="7.8" stroke-width="3.4"/>
<ellipse class="r" cx="1530.3" cy="420.3" rx="8.6" ry="9.0" stroke-width="3.4"/>
<ellipse class="r" cx="1533.0" cy="420.3" rx="4.2" ry="4.4" stroke-width="2.3"/>
<ellipse class="r" cx="1539.6" cy="406.6" rx="9.6" ry="10.1" stroke-width="3.4"/>
<ellipse class="r" cx="1540.8" cy="407.2" rx="6.9" ry="7.2" stroke-width="3.4"/>
<ellipse class="r" cx="1543.2" cy="422.1" rx="4.7" ry="4.9" stroke-width="2.6"/>
<ellipse class="r" cx="1552.4" cy="421.5" rx="3.5" ry="3.7" stroke-width="1.9"/>
<ellipse class="rn" cx="1552.4" cy="421.5" rx="1.7" ry="1.8"/>
<ellipse class="r" cx="1545.0" cy="431.6" rx="2.3" ry="2.4" stroke-width="1.3"/>
<ellipse class="r" cx="1539.6" cy="432.2" rx="3.1" ry="3.3" stroke-width="1.7"/>
<ellipse class="r" cx="1535.4" cy="440.3" rx="3.5" ry="3.7" stroke-width="1.9"/>
<ellipse class="r" cx="1532.4" cy="449.3" rx="1.9" ry="2.0" stroke-width="1.0"/>
<ellipse class="r" cx="1527.4" cy="451.9" rx="2.2" ry="2.3" stroke-width="1.2"/>
<ellipse class="r" cx="1520.2" cy="451.5" rx="3.1" ry="3.3" stroke-width="1.7"/>
<ellipse class="r" cx="1540.0" cy="448.9" rx="1.1" ry="1.2" stroke-width="0.6"/>
<ellipse class="r" cx="1553.9" cy="431.9" rx="1.2" ry="1.3" stroke-width="0.7"/>
<ellipse class="r" cx="1545.9" cy="336.7" rx="24.2" ry="25.4" stroke-width="3.4"/>
<ellipse class="r" cx="1587.1" cy="350.7" rx="8.4" ry="8.8" stroke-width="3.4"/>
<ellipse class="r" cx="1559.0" cy="379.3" rx="9.6" ry="10.1" stroke-width="3.4"/>
<ellipse class="r" cx="1526.0" cy="388.9" rx="16.1" ry="16.9" stroke-width="3.4"/>
<ellipse class="r" cx="1524.5" cy="393.0" rx="14.1" ry="14.8" stroke-width="3.4"/>
<ellipse class="r" cx="1547.7" cy="394.2" rx="6.9" ry="7.2" stroke-width="3.4"/>
<ellipse class="r" cx="1576.9" cy="319.7" rx="20.1" ry="21.1" stroke-width="3.4"/>
<ellipse class="r" cx="1568.0" cy="352.5" rx="13.5" ry="14.2" stroke-width="3.4"/>
<ellipse class="r" cx="1589.5" cy="362.6" rx="7.4" ry="7.8" stroke-width="3.4"/>
<ellipse class="r" cx="1602.2" cy="357.6" rx="5.0" ry="5.2" stroke-width="2.8"/>
<ellipse class="rn" cx="1602.2" cy="357.6" rx="2.6" ry="2.7"/>
<ellipse class="r" cx="1614.5" cy="360.0" rx="2.0" ry="2.1" stroke-width="1.1"/>
<ellipse class="r" cx="1606.8" cy="370.4" rx="1.6" ry="1.7" stroke-width="0.9"/>
<ellipse class="r" cx="1597.8" cy="375.5" rx="3.0" ry="3.1" stroke-width="1.7"/>
<ellipse class="r" cx="1605.0" cy="376.3" rx="1.1" ry="1.2" stroke-width="0.6"/>
<ellipse class="r" cx="1582.1" cy="383.1" rx="4.4" ry="4.6" stroke-width="2.4"/>
<ellipse class="r" cx="1590.9" cy="390.1" rx="1.4" ry="1.5" stroke-width="0.8"/>
<ellipse class="r" cx="1587.7" cy="394.2" rx="1.2" ry="1.3" stroke-width="0.7"/>
<ellipse class="r" cx="1562.6" cy="388.9" rx="6.9" ry="7.2" stroke-width="3.4"/>
<ellipse class="r" cx="1570.4" cy="383.5" rx="7.4" ry="7.8" stroke-width="3.4"/>
<ellipse class="rn" cx="1570.4" cy="383.5" rx="3.6" ry="3.8"/>
<ellipse class="r" cx="1619.3" cy="350.1" rx="0.8" ry="0.8" stroke-width="0.4"/>
<ellipse class="r" cx="1610.3" cy="322.1" rx="10.2" ry="10.7" stroke-width="3.4"/>
<ellipse class="r" cx="1616.9" cy="303.6" rx="9.6" ry="10.1" stroke-width="3.4"/>
<ellipse class="r" cx="1618.1" cy="315.5" rx="9.3" ry="9.8" stroke-width="3.4"/>
<ellipse class="r" cx="1667.5" cy="244.1" rx="13.7" ry="14.4" stroke-width="3.4"/>
<ellipse class="r" cx="1697.4" cy="250.1" rx="5.0" ry="5.2" stroke-width="2.8"/>
<ellipse class="r" cx="1655.3" cy="272.8" rx="10.8" ry="11.3" stroke-width="3.4"/>
<ellipse class="r" cx="1620.8" cy="294.2" rx="13.7" ry="14.4" stroke-width="3.4"/>
<ellipse class="r" cx="1702.1" cy="225.6" rx="8.4" ry="8.8" stroke-width="3.4"/>
<ellipse class="r" cx="1698.8" cy="228.6" rx="10.2" ry="10.7" stroke-width="3.4"/>
<ellipse class="r" cx="1669.6" cy="224.8" rx="17.7" ry="18.6" stroke-width="3.4"/>
<ellipse class="r" cx="1676.7" cy="256.7" rx="9.9" ry="10.4" stroke-width="3.4"/>
<ellipse class="r" cx="1703.9" cy="245.9" rx="5.5" ry="5.8" stroke-width="3.0"/>
<ellipse class="r" cx="1647.9" cy="286.7" rx="9.9" ry="10.4" stroke-width="3.4"/>
<ellipse class="r" cx="1673.9" cy="273.7" rx="7.4" ry="7.8" stroke-width="3.4"/>
<ellipse class="r" cx="1687.2" cy="270.0" rx="5.0" ry="5.2" stroke-width="2.8"/>
<ellipse class="r" cx="1682.8" cy="284.0" rx="3.0" ry="3.1" stroke-width="1.7"/>
<ellipse class="rn" cx="1682.8" cy="284.0" rx="1.4" ry="1.5"/>
<ellipse class="r" cx="1676.1" cy="291.6" rx="3.0" ry="3.1" stroke-width="1.7"/>
<ellipse class="r" cx="1684.8" cy="289.7" rx="1.2" ry="1.3" stroke-width="0.7"/>
<ellipse class="r" cx="1695.9" cy="284.5" rx="0.8" ry="0.8" stroke-width="0.4"/>
<ellipse class="r" cx="1688.9" cy="151.5" rx="31.0" ry="32.5" stroke-width="3.4"/>
<ellipse class="r" cx="1777.6" cy="160.8" rx="6.9" ry="7.2" stroke-width="3.4"/>
<ellipse class="r" cx="1759.3" cy="179.0" rx="7.9" ry="8.3" stroke-width="3.4"/>
<ellipse class="r" cx="1767.2" cy="187.0" rx="3.9" ry="4.1" stroke-width="2.1"/>
<ellipse class="r" cx="1774.9" cy="184.5" rx="3.0" ry="3.1" stroke-width="1.7"/>
<ellipse class="r" cx="1771.5" cy="192.2" rx="1.7" ry="1.8" stroke-width="0.9"/>
<ellipse class="r" cx="1783.6" cy="185.6" rx="0.8" ry="0.8" stroke-width="0.4"/>
<ellipse class="r" cx="1771.4" cy="198.9" rx="0.6" ry="0.6" stroke-width="0.3"/>
<ellipse class="r" cx="1801.1" cy="140.7" rx="6.1" ry="6.4" stroke-width="3.4"/>
<ellipse class="r" cx="1761.3" cy="85.8" rx="26.1" ry="27.4" stroke-width="3.4"/>
<ellipse class="r" cx="1848.8" cy="48.2" rx="12.4" ry="13.0" stroke-width="3.4"/>
<ellipse class="r" cx="1897.1" cy="48.6" rx="3.7" ry="3.9" stroke-width="2.0"/>
<ellipse class="r" cx="1851.2" cy="85.6" rx="6.4" ry="6.7" stroke-width="3.4"/>
<ellipse class="r" cx="1819.8" cy="101.5" rx="9.6" ry="10.1" stroke-width="3.4"/>
<ellipse class="r" cx="1852.6" cy="111.8" rx="0.8" ry="0.8" stroke-width="0.4"/>
<ellipse class="b" cx="1549.7" cy="683.6" rx="34.2" ry="35.9" stroke-width="3.4"/>
<ellipse class="b" cx="1598.1" cy="647.9" rx="35.8" ry="37.6" stroke-width="3.4"/>
<ellipse class="b" cx="1598.8" cy="606.6" rx="24.7" ry="25.9" stroke-width="3.4"/>
<ellipse class="b" cx="1579.8" cy="574.0" rx="8.8" ry="9.2" stroke-width="3.4"/>
<ellipse class="b" cx="1474.2" cy="697.9" rx="15.1" ry="15.8" stroke-width="3.4"/>
<ellipse class="b" cx="1492.5" cy="702.7" rx="13.5" ry="14.2" stroke-width="3.4"/>
<ellipse class="b" cx="1510.0" cy="702.7" rx="15.1" ry="15.8" stroke-width="3.4"/>
<ellipse class="b" cx="1592.7" cy="587.0" rx="10.4" ry="10.9" stroke-width="3.4"/>
<ellipse class="b" cx="1576.8" cy="571.1" rx="11.1" ry="11.6" stroke-width="3.4"/>
<ellipse class="b" cx="1538.6" cy="661.8" rx="26.3" ry="27.6" stroke-width="3.4"/>
<ellipse class="b" cx="1594.9" cy="644.8" rx="33.4" ry="35.0" stroke-width="3.4"/>
<ellipse class="b" cx="1587.7" cy="620.9" rx="30.2" ry="31.7" stroke-width="3.4"/>
<ellipse class="b" cx="1581.4" cy="616.1" rx="28.6" ry="30.0" stroke-width="3.4"/>
<ellipse class="b" cx="1573.6" cy="648.6" rx="23.1" ry="24.2" stroke-width="3.4"/>
<ellipse class="b" cx="1551.3" cy="672.5" rx="18.3" ry="19.2" stroke-width="3.4"/>
<ellipse class="b" cx="1549.7" cy="675.7" rx="21.5" ry="22.6" stroke-width="3.4"/>
<ellipse class="b" cx="1567.2" cy="609.3" rx="26.3" ry="27.6" stroke-width="3.4"/>
<ellipse class="b" cx="1574.2" cy="601.0" rx="19.9" ry="20.9" stroke-width="3.4"/>
<ellipse class="b" cx="1576.6" cy="620.9" rx="21.5" ry="22.6" stroke-width="3.4"/>
<ellipse class="b" cx="1573.4" cy="614.5" rx="19.9" ry="20.9" stroke-width="3.4"/>
<ellipse class="bn" cx="1577.4" cy="617.7" rx="16.7" ry="17.5"/>
<ellipse class="b" cx="1570.4" cy="651.8" rx="19.9" ry="20.9" stroke-width="3.4"/>
<ellipse class="b" cx="1532.2" cy="651.8" rx="15.9" ry="16.7" stroke-width="3.4"/>
<ellipse class="bn" cx="1525.9" cy="643.9" rx="15.1" ry="15.8"/>
<ellipse class="b" cx="1511.6" cy="688.4" rx="18.3" ry="19.2" stroke-width="3.4"/>
<ellipse class="bn" cx="1505.2" cy="678.8" rx="17.5" ry="18.4"/>
<ellipse class="bn" cx="1511.6" cy="682.0" rx="13.5" ry="14.2"/>
<ellipse class="bn" cx="1475.8" cy="690.0" rx="11.9" ry="12.5"/>
<ellipse class="bn" cx="1490.9" cy="662.1" rx="8.8" ry="9.2"/>
<ellipse class="bn" cx="1505.2" cy="646.2" rx="9.6" ry="10.1"/>
<ellipse class="bn" cx="1564.7" cy="578.0" rx="7.9" ry="8.3"/>
<ellipse class="b" cx="1548.7" cy="584.3" rx="7.9" ry="8.3" stroke-width="3.4"/>
<ellipse class="b" cx="1533.8" cy="606.1" rx="9.6" ry="10.1" stroke-width="3.4"/>
<ellipse class="b" cx="1548.9" cy="584.7" rx="8.4" ry="8.8" stroke-width="3.4"/>
<ellipse class="b" cx="1538.6" cy="599.0" rx="7.9" ry="8.3" stroke-width="3.4"/>
<ellipse class="b" cx="1490.1" cy="661.4" rx="11.1" ry="11.6" stroke-width="3.4"/>
<ellipse class="b" cx="1476.6" cy="667.7" rx="10.7" ry="11.2" stroke-width="3.4"/>
<ellipse class="b" cx="1475.8" cy="688.4" rx="15.1" ry="15.8" stroke-width="3.4"/>
<ellipse class="b" cx="1508.4" cy="683.6" rx="23.9" ry="25.1" stroke-width="3.4"/>
<ellipse class="b" cx="1529.1" cy="647.8" rx="19.9" ry="20.9" stroke-width="3.4"/>
<ellipse class="b" cx="1505.2" cy="645.1" rx="11.6" ry="12.2" stroke-width="3.4"/>
<ellipse class="b" cx="1485.3" cy="645.4" rx="8.4" ry="8.8" stroke-width="3.4"/>
<ellipse class="b" cx="1564.7" cy="578.0" rx="10.4" ry="10.9" stroke-width="3.4"/>
<ellipse class="b" cx="1575.0" cy="617.7" rx="26.3" ry="27.6" stroke-width="3.4"/>
<ellipse class="b" cx="1521.1" cy="614.9" rx="8.8" ry="9.2" stroke-width="3.4"/>
<ellipse class="b" cx="1521.1" cy="601.7" rx="6.3" ry="6.6" stroke-width="3.4"/>
<ellipse class="b" cx="1525.9" cy="591.0" rx="4.9" ry="5.1" stroke-width="2.7"/>
<ellipse class="b" cx="1508.4" cy="606.4" rx="3.9" ry="4.1" stroke-width="2.1"/>
<ellipse class="b" cx="1505.2" cy="615.7" rx="5.5" ry="5.8" stroke-width="3.0"/>
<ellipse class="b" cx="1493.3" cy="621.2" rx="3.9" ry="4.1" stroke-width="2.1"/>
<ellipse class="b" cx="1485.0" cy="627.9" rx="3.5" ry="3.7" stroke-width="1.9"/>
<ellipse class="b" cx="1480.6" cy="635.5" rx="3.5" ry="3.7" stroke-width="1.9"/>
<ellipse class="b" cx="1470.2" cy="653.8" rx="4.5" ry="4.7" stroke-width="2.5"/>
<ellipse class="b" cx="1514.0" cy="591.5" rx="1.7" ry="1.8" stroke-width="0.9"/>
<ellipse class="b" cx="1510.5" cy="596.1" rx="1.7" ry="1.8" stroke-width="0.9"/>
<ellipse class="b" cx="1504.4" cy="599.4" rx="1.2" ry="1.3" stroke-width="0.7"/>
<ellipse class="b" cx="1500.1" cy="605.0" rx="1.4" ry="1.5" stroke-width="0.8"/>
<ellipse class="b" cx="1471.0" cy="654.2" rx="4.9" ry="5.1" stroke-width="2.7"/>
<ellipse class="b" cx="1657.9" cy="552.3" rx="27.7" ry="29.1" stroke-width="3.4"/>
<ellipse class="b" cx="1641.8" cy="521.2" rx="15.1" ry="15.8" stroke-width="3.4"/>
<ellipse class="b" cx="1641.8" cy="506.9" rx="12.4" ry="13.0" stroke-width="3.4"/>
<ellipse class="b" cx="1622.5" cy="498.6" rx="6.5" ry="6.8" stroke-width="3.4"/>
<ellipse class="b" cx="1620.8" cy="486.1" rx="3.0" ry="3.1" stroke-width="1.7"/>
<ellipse class="b" cx="1606.6" cy="499.3" rx="3.0" ry="3.1" stroke-width="1.7"/>
<ellipse class="b" cx="1624.6" cy="473.4" rx="1.2" ry="1.3" stroke-width="0.7"/>
<ellipse class="b" cx="1608.9" cy="488.6" rx="1.0" ry="1.0" stroke-width="0.6"/>
<ellipse class="b" cx="1613.2" cy="489.4" rx="0.8" ry="0.8" stroke-width="0.4"/>
<ellipse class="b" cx="1582.5" cy="536.5" rx="5.1" ry="5.3" stroke-width="2.8"/>
<ellipse class="b" cx="1589.0" cy="525.8" rx="4.3" ry="4.5" stroke-width="2.4"/>
<ellipse class="b" cx="1590.4" cy="515.2" rx="2.1" ry="2.2" stroke-width="1.2"/>
<ellipse class="b" cx="1571.7" cy="537.0" rx="2.5" ry="2.6" stroke-width="1.4"/>
<ellipse class="b" cx="1574.5" cy="522.8" rx="0.8" ry="0.8" stroke-width="0.4"/>
<ellipse class="b" cx="1577.7" cy="519.2" rx="0.6" ry="0.6" stroke-width="0.3"/>
<ellipse class="b" cx="1568.6" cy="530.3" rx="0.8" ry="0.8" stroke-width="0.4"/>
<ellipse class="b" cx="1555.7" cy="555.4" rx="3.2" ry="3.4" stroke-width="1.8"/>
<ellipse class="r" cx="1630.2" cy="321.7" rx="6.2" ry="6.5" stroke-width="3.4"/>
<ellipse class="r" cx="1629.0" cy="332.1" rx="4.5" ry="4.7" stroke-width="2.5"/>
<ellipse class="r" cx="1636.4" cy="334.6" rx="1.9" ry="2.0" stroke-width="1.0"/>
<ellipse class="r" cx="1648.1" cy="303.5" rx="6.2" ry="6.5" stroke-width="3.4"/>
<ellipse class="r" cx="1667.0" cy="299.3" rx="3.3" ry="3.5" stroke-width="1.8"/>
<ellipse class="r" cx="1654.6" cy="316.2" rx="1.9" ry="2.0" stroke-width="1.0"/>
<ellipse class="r" cx="1662.5" cy="314.9" rx="1.0" ry="1.0" stroke-width="0.6"/>
<ellipse class="r" cx="1645.1" cy="336.1" rx="1.0" ry="1.0" stroke-width="0.6"/>
<ellipse class="r" cx="1622.0" cy="350.2" rx="2.6" ry="2.7" stroke-width="1.4"/>
<ellipse class="r" cx="1671.7" cy="302.3" rx="1.0" ry="1.0" stroke-width="0.6"/>
<ellipse class="r" cx="1658.3" cy="322.9" rx="1.0" ry="1.0" stroke-width="0.6"/>
<ellipse class="r" cx="1630.2" cy="344.0" rx="1.3" ry="1.4" stroke-width="0.7"/>
<line class="dash" x1="1332" y1="722.5" x2="1974.2" y2="48.6" stroke-dasharray="9.6 12.31"/>
<path class="br" d="M1226.9 273.7 L1374.5 387.6"/>
<path class="br" d="M1352.2 428.5 L1348.3 425.5 L1401.4 351.8 L1405.9 354.6"/>
<path class="br" d="M1173.8 292.5 L1210.1 485.5"/>
<path class="br" d="M1168.1 500.1 L1167.4 494.2 L1253.1 478 L1254.4 484.7"/>
<path class="br" d="M1333.7 409.4 L1350.8 485.5 L1363.7 502.6"/>
<path class="br" d="M1351.8 520.8 L1348.8 515 L1381.1 492.9 L1384.1 497.7"/>
<path class="br" d="M1292.1 455.4 L1316 503.9 L1320.2 526.2"/>
<path class="br" d="M1302.8 536.4 L1302.1 529.5 L1339.4 523.7 L1340.6 530"/>
<path class="br" d="M1322.8 676.9 L1293.4 695.8 L1271.8 692.6"/>
<path class="br" d="M1268.6 670.2 L1274 672 L1267.3 713 L1261.9 711.7"/>
<path class="br" d="M1392.1 635.2 L1427.6 664.5 L1449.5 667.5"/>
<path class="br" d="M1459.9 641.6 L1454.2 640.9 L1447.5 694.3 L1452.5 695"/>
<path class="br" d="M1751.6 632.6 L1703.6 597.1 L1687 580.9"/>
<path class="br" d="M1703.1 555.6 L1707.4 560.3 L1666.4 600.8 L1662.1 597.1"/>
<path class="br" d="M1742.4 660.5 L1657.7 679.6 L1637.3 669.7"/>
<path class="br" d="M1648.5 632.6 L1653.4 636.1 L1619.4 702 L1614.4 699.7"/>
<path class="br" d="M1434.2 84.1 L1703.9 55.4 L1719.3 74.6"/>
<path class="br" d="M1647.2 137.9 L1644.2 133 L1794.6 18.6 L1798.3 23.1"/>
<path class="br" d="M1400.5 103.8 L1509 295.6 L1527.1 314.2"/>
<path class="br" d="M1497.8 352.2 L1494 348.2 L1561.9 280.6 L1566.1 284.9"/>
<path class="br" d="M1569.6 168.5 L1599.3 228.3 L1619.5 240.4"/>
<path class="br" d="M1597.2 288.1 L1592.2 284.9 L1647.6 198.1 L1652.1 201.1"/>
<path class="ax" d="M1094.6 39.3 H1103.8 V695.7 H1094.6"/>
<path class="ax" d="M1094.6 148.7 H1103.8"/>
<path class="ax" d="M1094.6 258.1 H1103.8"/>
<path class="ax" d="M1094.6 367.5 H1103.8"/>
<path class="ax" d="M1094.6 476.9 H1103.8"/>
<path class="ax" d="M1094.6 586.3 H1103.8"/>
<path class="ax" d="M1149.0 731.0 V722.0 H1983.0 V731.0"/>
<path class="ax" d="M1357.5 722 V731"/>
<path class="ax" d="M1566.0 722 V731"/>
<path class="ax" d="M1774.5 722 V731"/>
<text class="tk" transform="translate(1080.2 40.1) rotate(-90) scale(1 1.000)">30</text>
<text class="tk" transform="translate(1080.2 149.5) rotate(-90) scale(1 1.000)">25</text>
<text class="tk" transform="translate(1080.2 258.9) rotate(-90) scale(1 1.000)">20</text>
<text class="tk" transform="translate(1080.2 368.3) rotate(-90) scale(1 1.000)">15</text>
<text class="tk" transform="translate(1080.2 477.7) rotate(-90) scale(1 1.000)">10</text>
<text class="tk" transform="translate(1080.2 587.1) rotate(-90) scale(1 1.000)">5</text>
<text class="tk" transform="translate(1080.2 696.5) rotate(-90) scale(1 1.000)">0</text>
<text class="tk" transform="translate(1149.0 766.6) scale(1 1.000)">-10</text>
<text class="tk" transform="translate(1357.5 766.6) scale(1 1.000)">0</text>
<text class="tk" transform="translate(1566.0 766.6) scale(1 1.000)">10</text>
<text class="tk" transform="translate(1774.5 766.6) scale(1 1.000)">20</text>
<text class="tk" transform="translate(1983.0 766.6) scale(1 1.000)">30</text>
<text class="al" transform="translate(1034.3 553.0) rotate(-90) scale(1 1.020)"><tspan font-style="italic">Z</tspan>-score (adjusted model)</text>
<text class="al" transform="translate(1362.3 797.6) scale(1 1.020)"><tspan font-style="italic">Z</tspan>-score (unadjusted model)</text>
<text class="pl" transform="translate(1004.0 23.7) scale(1 1.040)">b</text>
<text class="gl" transform="translate(1141.8 278.2) scale(1 1.040)">APOE</text>
<text class="gl" transform="translate(1337.3 97.2) scale(1 1.040)">FADS2</text>
<text class="gl" transform="translate(1481.5 159.5) scale(1 1.040)">TMEM229B</text>
<text class="gl" transform="translate(1281.5 402.5) scale(1 1.040)">LIPC</text>
<text class="gl" transform="translate(1219.3 447.9) scale(1 1.040)">APOA/C</text>
<text class="gl" transform="translate(1306.5 628.1) scale(1 1.040)">PCSK9</text>
<text class="gl" transform="translate(1311.0 665.7) scale(1 1.040)">CETP</text>
<text class="gl" transform="translate(1749.8 664.4) scale(1 1.040)">APOE</text>
</g>
</svg>
</body></html>
